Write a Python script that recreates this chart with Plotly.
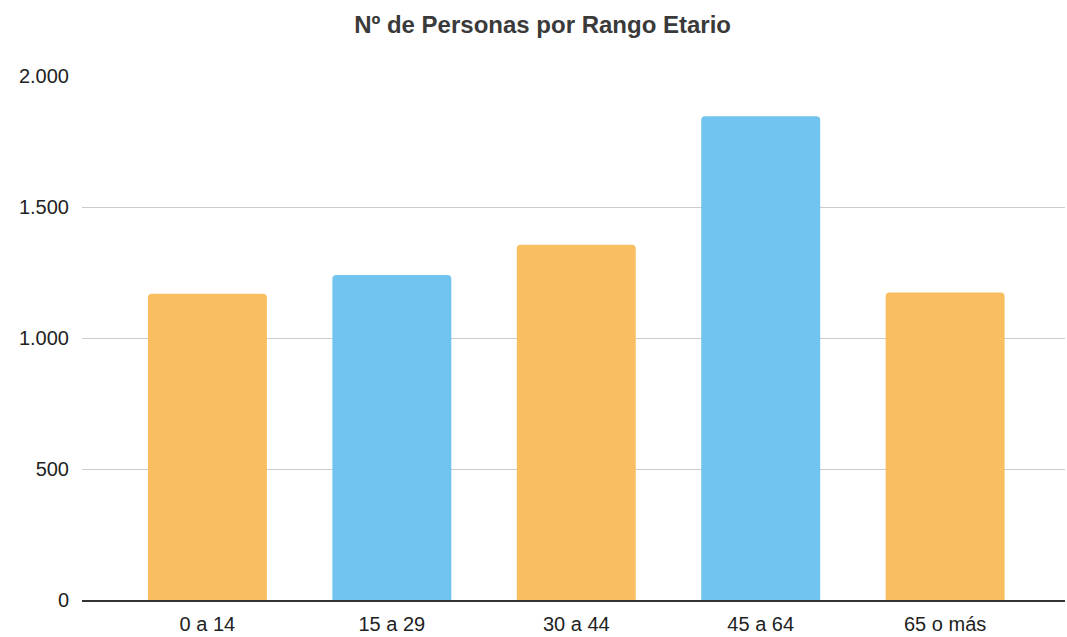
import plotly.graph_objects as go

categories = ["0 a 14", "15 a 29", "30 a 44", "45 a 64", "65 o más"]
values = [1169, 1240, 1356, 1846, 1174]
bar_colors = ["#F8BE5F", "#71C3F0", "#F8BE5F", "#71C3F0", "#F8BE5F"]

fig = go.Figure(go.Bar(
    x=list(range(len(categories))),
    y=values,
    marker=dict(color=bar_colors, line=dict(width=0), cornerradius=4),
    width=0.645,
))

fig.update_layout(
    width=1067, height=637,
    margin=dict(l=82, r=2, t=76, b=37),
    paper_bgcolor="white", plot_bgcolor="white",
    separators=",.",
    showlegend=False,
    title=dict(text="<b>Nº de Personas por Rango Etario</b>", x=0.5085, xanchor="center",
               y=0.961, yanchor="middle",
               font=dict(family="Liberation Sans, Arial", size=24, color="#3a3a3a")),
    font=dict(family="Liberation Sans, Arial", size=20, color="#222222"),
)
fig.update_xaxes(
    tickmode="array", tickvals=list(range(len(categories))), ticktext=categories,
    range=[-0.68, 4.65], showgrid=False, showline=True, linecolor="#333333", linewidth=2,
    ticks="outside", ticklen=5, tickcolor="rgba(0,0,0,0)", tickfont=dict(size=20),
)
fig.update_yaxes(
    range=[0, 2000], tickvals=[0, 500, 1000, 1500, 2000], tickformat=",",
    showgrid=True, gridcolor="#CCCCCC", gridwidth=1, zeroline=False,
    ticks="outside", ticklen=8, tickcolor="rgba(0,0,0,0)", tickfont=dict(size=20),
)
fig.write_html("out.html", config={"displayModeBar": False},
               post_script="document.body.style.margin='0';document.body.style.overflow='hidden';")
